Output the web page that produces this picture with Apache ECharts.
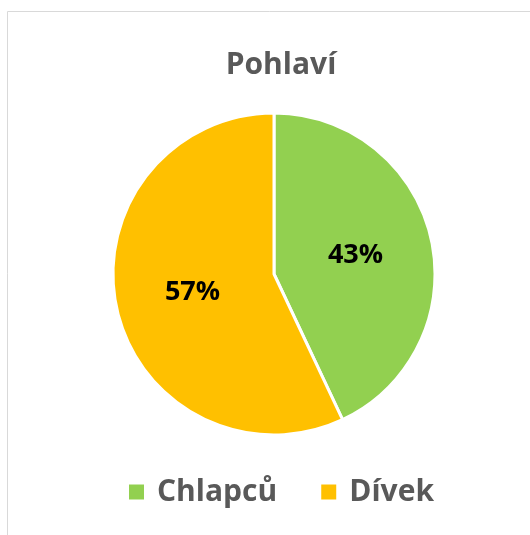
<!DOCTYPE html>
<html>
<head>
<meta charset="utf-8">
<script src="https://cdn.jsdelivr.net/npm/echarts@6/dist/echarts.min.js"></script>
<style>
  html, body { margin: 0; padding: 0; background: #fff; }
  #chart { width: 530px; height: 535px; }
</style>
</head>
<body>
<div id="chart"></div>
<script>
// data
const categories = ['Chlapců', 'Dívek']
const values = [43, 57]
const colors = ['#92d050', '#ffc000']

const chart = echarts.init(document.getElementById('chart'))
chart.setOption({
  animation: false,
  graphic: [
    {
      type: 'rect',
      shape: { x: 7.5, y: 11.5, width: 600, height: 600 },
      style: { fill: 'none', stroke: '#d9d9d9', lineWidth: 1 },
      silent: true
    }
  ],
  title: {
    text: 'Pohlaví',
    left: 276,
    textAlign: 'center',
    top: 45,
    textStyle: { fontFamily: 'Open Sans', fontSize: 30, fontWeight: 'bold', color: '#595959' }
  },
  legend: {
    bottom: 28,
    left: 127,
    padding: 0,
    itemWidth: 17,
    itemHeight: 17,
    itemGap: 42,
    icon: 'rect',
    textStyle: { fontFamily: 'Open Sans', fontSize: 30, fontWeight: 'bold', color: '#595959', padding: [0, 0, 0, 7] },
    data: categories
  },
  series: [
    {
      type: 'pie',
      center: [274, 274],
      radius: [0, 161],
      startAngle: 90,
      clockwise: true,
      itemStyle: { borderColor: '#fff', borderWidth: 3 },
      label: {
        position: 'inside',
        formatter: '{c}%',
        fontFamily: 'Open Sans',
        fontSize: 27,
        fontWeight: 'bold',
        color: '#000'
      },
      labelLine: { show: false },
      data: categories.map((name, i) => ({ name, value: values[i], itemStyle: { color: colors[i] } }))
    }
  ]
})
</script>
</body>
</html>
